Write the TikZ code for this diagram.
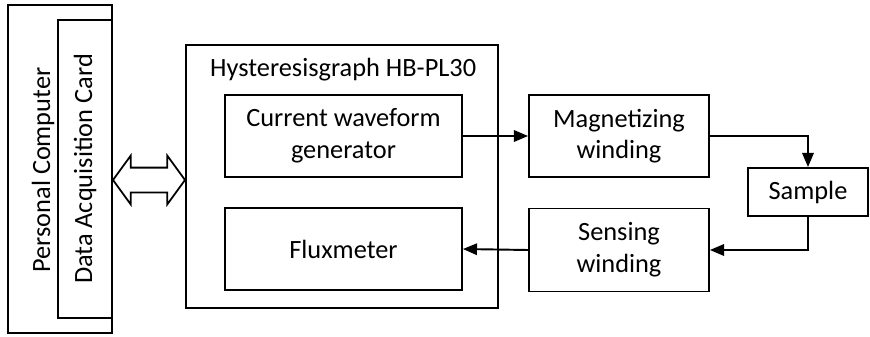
\documentclass[tikz,border=0pt]{standalone}
\usepackage{fontspec}
\setmainfont{Carlito}
\usetikzlibrary{arrows.meta,positioning,shapes.arrows}
\tikzset{
  >={Triangle[length=8pt,width=6.5pt]},
  txt/.style   ={font=\fontsize{15}{18}\selectfont},
  blk/.style   ={txt,draw=black,line width=1.1pt,fill=white,align=center,inner sep=0pt},
  ar/.style    ={->,line width=1.1pt},
  link/.style  ={double arrow,draw=black,line width=1pt,inner xsep=0pt,inner ysep=0.23cm,
                 minimum height=1.44cm,minimum width=0.94cm,
                 double arrow head extend=0.24cm,double arrow tip angle=108},
}
\begin{document}
\begin{tikzpicture}[x=0.02cm,y=0.02cm]
\useasboundingbox (0,0) rectangle (870,336);
% computer side
\node[blk,minimum width=2.08cm,minimum height=6.56cm] (pc) at (60,167) {};
\node[txt,rotate=90] (pctxt) at (43,166) {Personal Computer};
\node[blk,rotate=90,minimum width=5.96cm,minimum height=1.08cm] (daq) at (85,167) {Data Acquisition Card};
% hysteresisgraph
\node[blk,minimum width=6.24cm,minimum height=5.26cm] (hyst) at (342,159.5) {};
\node[txt,anchor=west] (htitle) at (204,266) {Hysteresisgraph HB-PL30};
\node[blk,minimum width=4.74cm,minimum height=1.64cm] (cwg) at (343.5,200) {Current waveform\\generator};
\node[blk,minimum width=4.74cm,minimum height=1.64cm] (flux) at (343.5,87) {Fluxmeter};
% windings and sample
\node[blk,minimum width=3.6cm,minimum height=1.64cm] (mag) at (619,200) {Magnetizing\\winding};
\node[blk,minimum width=3.6cm,minimum height=1.66cm] (sens) at (619,86) {Sensing\\winding};
\node[blk,minimum width=2.4cm,minimum height=0.96cm] (sample) at (808,144) {Sample};
% data link
\node[link] (bus) at (149,156) {};
% signal path
\draw[ar] (cwg.east) -- (mag.west);
\draw[ar] (mag.east) -| (sample.north);
\draw[ar] (sample.south) |- (sens.east);
\draw[ar] (sens.west) -- (flux.east);
\end{tikzpicture}
\end{document}
